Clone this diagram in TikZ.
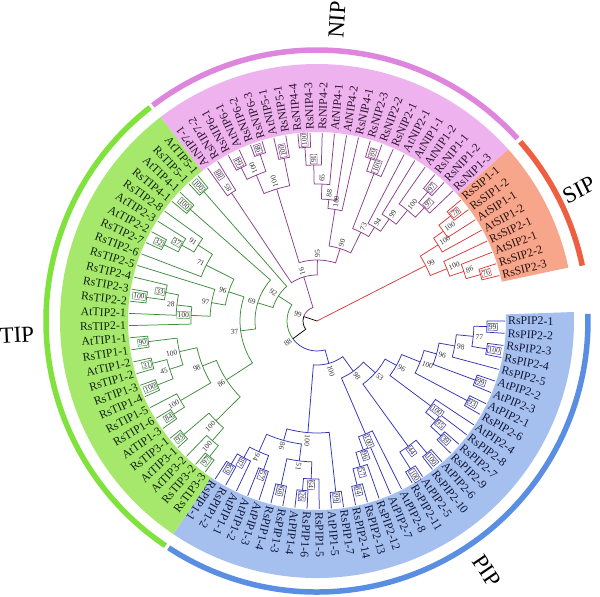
\documentclass[tikz,border=0pt]{standalone}
\usepackage{fontspec}
\setmainfont{Liberation Serif}
\definecolor{cSipFill}{HTML}{F7A58B}
\definecolor{cNipFill}{HTML}{EEB3EE}
\definecolor{cTipFill}{HTML}{A6E86C}
\definecolor{cPipFill}{HTML}{A5BFEE}
\definecolor{sipA}{HTML}{EF5E40}
\definecolor{nipA}{HTML}{DE86DE}
\definecolor{tipA}{HTML}{80E23C}
\definecolor{pipA}{HTML}{5A8EE3}
\definecolor{sipB}{HTML}{D83A3A}
\definecolor{nipB}{HTML}{8A3F8A}
\definecolor{tipB}{HTML}{3F8C3F}
\definecolor{pipB}{HTML}{3434B0}
\definecolor{sipT}{HTML}{2B1410}
\definecolor{nipT}{HTML}{2E1530}
\definecolor{tipT}{HTML}{12260C}
\definecolor{pipT}{HTML}{12183A}
\definecolor{bsT}{HTML}{303030}
\tikzset{
  br/.style={line width=0.75pt},
  sipc/.style={br,draw=sipB},
  nipc/.style={br,draw=nipB},
  tipc/.style={br,draw=tipB},
  pipc/.style={br,draw=pipB},
  rootc/.style={br,draw=black},
  bs/.style={font=\fontsize{7.5}{8}\selectfont,text=bsT,inner sep=0.6pt},
  bsbox/.style={draw,fill=white,line width=0.45pt,inner sep=0.9pt},
  leaf/.style={font=\fontsize{11.8}{13}\selectfont,inner sep=0pt},
  grp/.style={font=\fontsize{23}{25}\selectfont,inner sep=0pt,text=black},
  band/.style={line width=5.5pt}
}
% node: style, radius, angle1, child radius1, angle2, child radius2
\newcommand\Nd[6]{\draw[#1] (#3:#4pt) -- (#3:#2pt) arc[start angle=#3, end angle=#5, radius=#2pt] -- (#5:#6pt);}
% bootstrap labels: extra style, angle, radius, text
\newcommand\Lb[4]{\node[bs,#1,rotate=#2,anchor=west] at (#2:#3pt) {#4};}
\newcommand\Lf[4]{\node[bs,#1,rotate=#2-180,anchor=east] at (#2:#3pt) {#4};}
% leaf labels
\newcommand\Ln[2]{\node[leaf,rotate=#1,anchor=west] at (#1:191pt) {#2};}
\newcommand\Lt[2]{\node[leaf,rotate=#1-180,anchor=east] at (#1:191pt) {#2};}
\newcommand\AnnSector[3]{\path[fill=#1] (#2:189pt) -- (#2:257pt) arc[start angle=#2, end angle=#3, radius=257pt] -- (#3:189pt) arc[start angle=#3, end angle=#2, radius=189pt] -- cycle;}
\newcommand\Band[3]{\draw[band,#1] (#2:271pt) arc[start angle=#2, end angle=#3, radius=271pt];}
\begin{document}
\begin{tikzpicture}
\fill[white] (0,0) rectangle (600pt,597pt);
\useasboundingbox (0,0) rectangle (600pt,597pt);
\begin{scope}[shift={(317pt,276pt)}]
% sectors
\AnnSector{cPipFill}{236}{362}
\AnnSector{cNipFill}{41.9}{127.5}
\AnnSector{cSipFill}{12}{41.9}
\AnnSector{cTipFill}{127.5}{236}
% outer bands
\Band{sipA}{11.8}{41.4}
\Band{nipA}{42.3}{127.3}
\Band{tipA}{128.0}{236.0}
\Band{pipA}{236.8}{361.5}
% group labels
\node[grp,rotate=86.2,anchor=west] at (86.2:283pt) {NIP};
\node[grp,rotate=26.6,anchor=west] at (26.6:276pt) {SIP};
\node[grp,rotate=2.7,anchor=east] at (182.7:283pt) {TIP};
\node[grp,rotate=-55.8,anchor=west] at (-55.8:285pt) {PIP};

% ---------- SIP ----------
\Nd{sipc}{170}{14.00}{188}{17.72}{188}
\Nd{sipc}{155}{15.86}{170}{21.44}{188}
\Nd{sipc}{140}{18.65}{155}{25.16}{188}
\Nd{sipc}{170}{36.32}{188}{40.04}{188}
\Nd{sipc}{155}{32.60}{188}{38.18}{170}
\Nd{sipc}{143}{28.88}{188}{35.39}{155}
\Nd{sipc}{122}{21.905}{140}{32.135}{143}
\draw[sipc] (0,0) -- (27.02:122pt);
\Lb{bsbox,draw=sipB}{15.86}{171}{76}
\Lb{}{18.65}{156.5}{86}
\Lb{}{21.905}{141.5}{100}
\Lb{bsbox,draw=sipB}{38.18}{171}{78}
\Lb{}{35.39}{156.5}{100}
\Lb{}{32.135}{144.5}{100}
\Lb{}{27.02}{123.5}{99}

% ---------- NIP ----------
\Nd{nipc}{170}{47.48}{188}{51.20}{188}
\Nd{nipc}{156}{43.76}{188}{49.34}{170}
\Nd{nipc}{143}{46.55}{156}{54.92}{188}
\Nd{nipc}{125}{50.735}{143}{58.64}{188}
\Nd{nipc}{110}{54.69}{125}{62.36}{188}
\Nd{nipc}{171}{69.80}{188}{73.52}{188}
\Nd{nipc}{158}{66.08}{188}{71.66}{171}
\Nd{nipc}{99}{58.525}{110}{68.87}{158}
\Nd{nipc}{174}{92.12}{188}{95.84}{188}
\Nd{nipc}{156}{88.40}{188}{93.98}{174}
\Nd{nipc}{137}{84.68}{188}{91.19}{156}
\Nd{nipc}{122}{80.96}{188}{87.935}{137}
\Nd{nipc}{113}{77.24}{188}{84.4475}{122}
\Nd{nipc}{76}{63.6975}{99}{80.84}{113}
\Nd{nipc}{166}{99.56}{188}{103.28}{188}
\Nd{nipc}{176}{107.00}{188}{110.72}{188}
\Nd{nipc}{171}{114.44}{188}{118.16}{188}
\Nd{nipc}{158}{108.86}{176}{116.30}{171}
\Nd{nipc}{138}{101.42}{166}{112.58}{158}
\Nd{nipc}{154}{121.88}{188}{125.60}{188}
\Nd{nipc}{61}{72.27}{76}{107.0}{138}
\Nd{nipc}{46}{89.635}{61}{123.74}{154}
\Lb{bsbox,draw=nipB}{49.34}{171}{97}
\Lb{bsbox,draw=nipB}{46.55}{157}{97}
\Lb{}{50.735}{144.5}{100}
\Lb{}{54.69}{126.5}{99}
\Lb{}{58.525}{111.5}{94}
\Lb{bsbox,draw=nipB}{71.66}{172}{80}
\Lb{bsbox,draw=nipB}{68.87}{159}{100}
\Lb{}{63.70}{100.5}{73}
\Lb{bsbox,draw=nipB}{93.98}{175}{100}
\Lb{bsbox,draw=nipB}{91.19}{157}{91}
\Lb{}{87.935}{138.5}{65}
\Lb{}{84.45}{123.5}{88}
\Lb{}{80.84}{114.5}{100}
\Lb{}{72.27}{77.5}{90}
\Lb{bsbox,draw=nipB}{101.42}{167}{100}
\Lb{bsbox,draw=nipB}{108.86}{177}{98}
\Lb{bsbox,draw=nipB}{116.30}{172}{64}
\Lb{}{112.58}{159.5}{100}
\Lb{}{107.0}{139.5}{100}
\Lb{}{123.74}{155.5}{85}
\Lb{bsbox,draw=nipB}{123.74}{171}{88}
\Lb{}{89.635}{62.5}{95}
\Lb{}{106.69}{47.5}{16}

% ---------- TIP ----------
\Nd{tipc}{172}{129.32}{188}{133.04}{188}
\Nd{tipc}{169}{136.76}{188}{140.48}{188}
\Nd{tipc}{171}{151.64}{188}{155.36}{188}
\Nd{tipc}{155}{147.92}{188}{153.50}{171}
\Nd{tipc}{141}{144.20}{188}{150.71}{155}
\Nd{tipc}{124}{147.455}{141}{159.08}{188}
\Nd{tipc}{172}{170.24}{188}{173.96}{188}
\Nd{tipc}{154}{166.52}{188}{172.10}{172}
\Nd{tipc}{141}{169.31}{154}{177.68}{188}
\Nd{tipc}{126}{173.495}{141}{181.40}{188}
\Nd{tipc}{107}{162.80}{188}{177.4475}{126}
\Nd{tipc}{93}{153.2675}{124}{170.124}{107}
\Nd{tipc}{170}{185.12}{188}{188.84}{188}
\Nd{tipc}{170}{192.56}{188}{196.28}{188}
\Nd{tipc}{172}{200.00}{188}{203.72}{188}
\Nd{tipc}{155}{194.42}{170}{201.86}{172}
\Nd{tipc}{141}{186.98}{170}{198.14}{155}
\Nd{tipc}{171}{211.16}{188}{214.88}{188}
\Nd{tipc}{158}{207.44}{188}{213.02}{171}
\Nd{tipc}{123}{192.56}{141}{210.23}{158}
\Nd{tipc}{175}{218.60}{188}{222.32}{188}
\Nd{tipc}{173}{229.76}{188}{233.48}{188}
\Nd{tipc}{159}{226.04}{188}{231.62}{173}
\Nd{tipc}{142}{220.46}{175}{228.83}{159}
\Nd{tipc}{108}{201.395}{123}{224.645}{142}
\Nd{tipc}{77}{161.696}{93}{213.02}{108}
\Nd{tipc}{62}{138.62}{169}{187.358}{77}
\Nd{tipc}{46}{131.18}{172}{162.989}{62}
\Lf{bsbox,draw=tipB}{131.18}{173}{100}
\Lf{bsbox,draw=tipB}{138.62}{170}{100}
\Lf{bsbox,draw=tipB}{153.50}{172}{32}
\Lf{bsbox,draw=tipB}{150.71}{156}{37}
\Lf{}{147.455}{142.5}{91}
\Lf{}{153.27}{125.5}{71}
\Lf{bsbox,draw=tipB}{172.10}{173}{100}
\Lf{bsbox,draw=tipB}{169.31}{155}{33}
\Lf{}{173.495}{142.5}{28}
\Lf{bsbox,draw=tipB}{177.45}{127}{100}
\Lf{}{170.12}{108.5}{97}
\Lf{}{161.70}{94.5}{96}
\Lf{bsbox,draw=tipB}{186.98}{171}{90}
\Lf{bsbox,draw=tipB}{194.42}{171}{31}
\Lf{bsbox,draw=tipB}{201.86}{173}{100}
\Lf{}{198.14}{156.5}{45}
\Lf{}{192.56}{142.5}{100}
\Lf{bsbox,draw=tipB}{213.02}{172}{84}
\Lf{}{210.23}{159.5}{100}
\Lf{}{201.395}{124.5}{98}
\Lf{bsbox,draw=tipB}{220.46}{176}{93}
\Lf{bsbox,draw=tipB}{231.62}{174}{97}
\Lf{}{228.83}{160.5}{100}
\Lf{}{224.645}{143.5}{100}
\Lf{}{213.02}{109.5}{86}
\Lf{}{187.36}{78.5}{37}
\Lf{}{162.99}{63.5}{69}
\Lf{}{147.08}{47.5}{92}

% ---------- PIP ----------
\Nd{pipc}{167}{237.20}{188}{240.92}{188}
\Nd{pipc}{155}{239.06}{167}{244.64}{188}
\Nd{pipc}{158}{248.36}{188}{252.08}{188}
\Nd{pipc}{143}{241.85}{155}{250.22}{158}
\Nd{pipc}{168}{255.80}{188}{259.52}{188}
\Nd{pipc}{170}{263.24}{188}{266.96}{188}
\Nd{pipc}{158}{265.10}{170}{270.68}{188}
\Nd{pipc}{141}{257.66}{168}{267.89}{158}
\Nd{pipc}{124}{246.035}{143}{262.775}{141}
\Nd{pipc}{172}{274.40}{188}{278.12}{188}
\Nd{pipc}{112}{254.405}{124}{276.26}{172}
\Nd{pipc}{169}{281.84}{188}{285.56}{188}
\Nd{pipc}{152}{283.70}{169}{289.28}{188}
\Nd{pipc}{137}{286.49}{152}{293.00}{188}
\Nd{pipc}{123}{289.745}{137}{296.72}{188}
\Nd{pipc}{175}{300.44}{188}{304.16}{188}
\Nd{pipc}{172}{307.88}{188}{311.60}{188}
\Nd{pipc}{155}{302.30}{175}{309.74}{172}
\Nd{pipc}{169}{315.32}{188}{319.04}{188}
\Nd{pipc}{155}{317.18}{169}{322.76}{188}
\Nd{pipc}{142}{319.97}{155}{326.48}{188}
\Nd{pipc}{170}{330.20}{188}{333.92}{188}
\Nd{pipc}{169}{337.64}{188}{341.36}{188}
\Nd{pipc}{172}{348.80}{188}{352.52}{188}
\Nd{pipc}{170}{356.24}{188}{359.96}{188}
\Nd{pipc}{157}{350.66}{172}{358.10}{170}
\Nd{pipc}{140}{345.08}{188}{354.38}{157}
\Nd{pipc}{124}{339.50}{169}{349.73}{140}
\Nd{pipc}{111}{332.06}{170}{344.615}{124}
\Nd{pipc}{91}{323.225}{142}{338.3375}{111}
\Nd{pipc}{78}{306.02}{155}{330.78}{91}
\Nd{pipc}{62}{293.2325}{123}{318.40}{78}
\Nd{pipc}{44}{265.3325}{112}{305.816}{62}
\Lb{bsbox,draw=pipB}{239.06}{168}{69}
\Lb{bsbox,draw=pipB}{241.85}{156}{87}
\Lb{bsbox,draw=pipB}{250.22}{159}{57}
\Lb{}{246.035}{144.5}{94}
\Lb{bsbox,draw=pipB}{257.66}{169}{98}
\Lb{bsbox,draw=pipB}{265.10}{171}{26}
\Lb{bsbox,draw=pipB}{267.89}{159}{64}
\Lb{}{262.775}{142.5}{51}
\Lb{}{254.405}{125.5}{86}
\Lb{bsbox,draw=pipB}{276.26}{173}{99}
\Lb{}{265.33}{113.5}{100}
\Lb{bsbox,draw=pipB}{283.70}{170}{84}
\Lb{bsbox,draw=pipB}{286.49}{153}{57}
\Lb{bsbox,draw=pipB}{289.745}{138}{96}
\Lb{bsbox,draw=pipB}{293.23}{124}{100}
\Lb{bsbox,draw=pipB}{302.30}{176}{100}
\Lb{bsbox,draw=pipB}{309.74}{173}{100}
\Lb{bsbox,draw=pipB}{306.02}{156}{44}
\Lb{bsbox,draw=pipB}{317.18}{170}{39}
\Lb{bsbox,draw=pipB}{319.97}{156}{95}
\Lb{bsbox,draw=pipB}{323.225}{143}{100}
\Lb{bsbox,draw=pipB}{332.06}{171}{93}
\Lb{bsbox,draw=pipB}{339.50}{170}{99}
\Lb{bsbox,draw=pipB}{350.66}{173}{100}
\Lb{bsbox,draw=pipB}{358.10}{171}{99}
\Lb{}{354.38}{158.5}{77}
\Lb{}{349.73}{141.5}{98}
\Lb{}{344.615}{125.5}{96}
\Lb{}{338.34}{112.5}{100}
\Lb{}{330.78}{92.5}{96}
\Lb{}{318.40}{79.5}{53}
\Lb{}{305.82}{63.5}{98}
\Lb{}{285.57}{45.5}{100}

% ---------- root ----------
\draw[tipc] (147.0845:46pt) -- (147.0845:30pt) arc[start angle=147.0845, end angle=216.33, radius=30pt];
\draw[pipc] (216.33:30pt) arc[start angle=216.33, end angle=285.574, radius=30pt] -- (285.574:44pt);
\draw[nipc] (106.69:46pt) -- (106.69:14pt) arc[start angle=106.69, end angle=161.51, radius=14pt];
\draw[rootc] (161.51:14pt) arc[start angle=161.51, end angle=216.33, radius=14pt] -- (216.33:30pt);
\draw[rootc] (0,0) -- (161.51:14pt);
\Lf{}{161.51}{15.5}{99}
\Lf{}{216.33}{31.5}{88}

% ---------- leaf labels ----------
\begin{scope}[every node/.append style={text=sipT}]
\Ln{14.00}{RsSIP2-3}
\Ln{17.72}{RsSIP2-2}
\Ln{21.44}{AtSIP2-1}
\Ln{25.16}{RsSIP2-1}
\Ln{28.88}{AtSIP1-2}
\Ln{32.60}{AtSIP1-1}
\Ln{36.32}{RsSIP1-2}
\Ln{40.04}{RsSIP1-1}
\end{scope}
\begin{scope}[every node/.append style={text=nipT}]
\Ln{43.76}{RsNIP1-3}
\Ln{47.48}{RsNIP1-2}
\Ln{51.20}{RsNIP1-1}
\Ln{54.92}{AtNIP1-2}
\Ln{58.64}{AtNIP1-1}
\Ln{62.36}{AtNIP2-1}
\Ln{66.08}{RsNIP2-1}
\Ln{69.80}{RsNIP2-2}
\Ln{73.52}{RsNIP2-3}
\Ln{77.24}{RsNIP4-1}
\Ln{80.96}{AtNIP4-2}
\Ln{84.68}{AtNIP4-1}
\Ln{88.40}{RsNIP4-2}
\Ln{92.12}{RsNIP4-3}
\Ln{95.84}{RsNIP4-4}
\Ln{99.56}{RsNIP5-1}
\Ln{103.28}{AtNIP5-1}
\Ln{107.00}{RsNIP6-3}
\Ln{110.72}{RsNIP6-2}
\Ln{114.44}{AtNIP6-1}
\Ln{118.16}{RsNIP6-1}
\Ln{121.88}{RsNIP7-2}
\Ln{125.60}{AtNIP7-1}
\end{scope}
\begin{scope}[every node/.append style={text=tipT}]
\Lt{129.32}{AtTIP5-1}
\Lt{133.04}{RsTIP5-1}
\Lt{136.76}{AtTIP4-1}
\Lt{140.48}{RsTIP4-1}
\Lt{144.20}{RsTIP2-8}
\Lt{147.92}{AtTIP2-3}
\Lt{151.64}{AtTIP2-2}
\Lt{155.36}{RsTIP2-7}
\Lt{159.08}{RsTIP2-6}
\Lt{162.80}{RsTIP2-5}
\Lt{166.52}{RsTIP2-4}
\Lt{170.24}{RsTIP2-3}
\Lt{173.96}{RsTIP2-2}
\Lt{177.68}{AtTIP2-1}
\Lt{181.40}{RsTIP2-1}
\Lt{185.12}{AtTIP1-1}
\Lt{188.84}{RsTIP1-1}
\Lt{192.56}{AtTIP1-2}
\Lt{196.28}{RsTIP1-2}
\Lt{200.00}{RsTIP1-3}
\Lt{203.72}{RsTIP1-4}
\Lt{207.44}{RsTIP1-5}
\Lt{211.16}{RsTIP1-6}
\Lt{214.88}{AtTIP1-3}
\Lt{218.60}{RsTIP3-1}
\Lt{222.32}{AtTIP3-1}
\Lt{226.04}{AtTIP3-2}
\Lt{229.76}{RsTIP3-2}
\Lt{233.48}{RsTIP3-3}
\end{scope}
\begin{scope}[every node/.append style={text=pipT}]
\Ln{237.20}{RsPIP1-1}
\Ln{240.92}{RsPIP1-2}
\Ln{244.64}{AtPIP1-1}
\Ln{248.36}{AtPIP1-2}
\Ln{252.08}{AtPIP1-3}
\Ln{255.80}{RsPIP1-4}
\Ln{259.52}{RsPIP1-3}
\Ln{263.24}{AtPIP1-4}
\Ln{266.96}{RsPIP1-6}
\Ln{270.68}{RsPIP1-5}
\Ln{274.40}{AtPIP1-5}
\Ln{278.12}{RsPIP1-7}
\Ln{281.84}{RsPIP2-14}
\Ln{285.56}{RsPIP2-13}
\Ln{289.28}{RsPIP2-12}
\Ln{293.00}{AtPIP2-7}
\Ln{296.72}{AtPIP2-8}
\Ln{300.44}{RsPIP2-11}
\Ln{304.16}{AtPIP2-5}
\Ln{307.88}{RsPIP2-10}
\Ln{311.60}{AtPIP2-6}
\Ln{315.32}{RsPIP2-9}
\Ln{319.04}{RsPIP2-7}
\Ln{322.76}{RsPIP2-8}
\Ln{326.48}{AtPIP2-4}
\Ln{330.20}{RsPIP2-6}
\Ln{333.92}{AtPIP2-1}
\Ln{337.64}{AtPIP2-3}
\Ln{341.36}{AtPIP2-2}
\Ln{345.08}{RsPIP2-5}
\Ln{348.80}{RsPIP2-4}
\Ln{352.52}{RsPIP2-3}
\Ln{356.24}{RsPIP2-2}
\Ln{359.96}{RsPIP2-1}
\end{scope}
\end{scope}
\end{tikzpicture}
\end{document}
